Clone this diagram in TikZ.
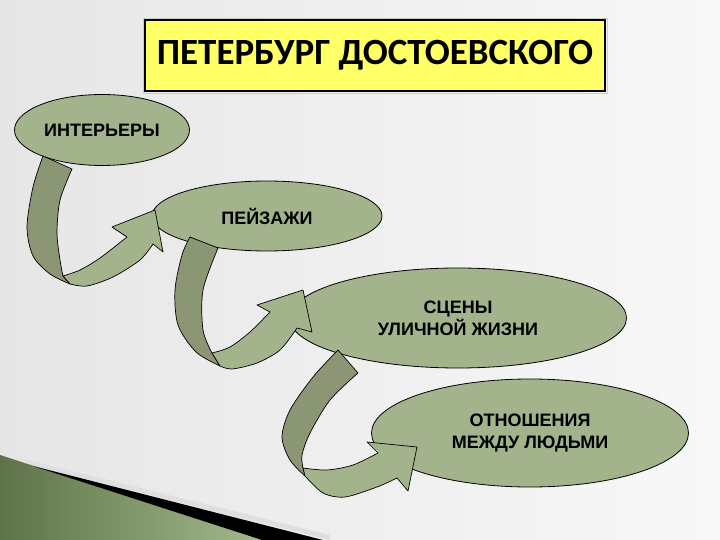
\documentclass[tikz,border=0pt]{standalone}
\usepackage{fontspec}
\setmainfont{Liberation Sans}
\newfontfamily\titlefont{Carlito}
\usetikzlibrary{shapes.geometric}
\definecolor{bgL}{HTML}{E6E6E6}
\definecolor{bgR}{HTML}{F8F8F8}
\definecolor{sage}{HTML}{A3B38C}
\definecolor{sagedark}{HTML}{8A9674}
\definecolor{titleyellow}{HTML}{FFFF66}
\definecolor{bandDark}{HTML}{5E7349}
\definecolor{bandLight}{HTML}{A3B98C}
\tikzset{
  oval/.style={ellipse, draw=black, line width=0.8pt, fill=sage, inner sep=0pt,
    font=\bfseries\fontsize{18}{22}\selectfont, align=center},
  backpart/.style={draw=black, line width=0.7pt, fill=sagedark, line join=round},
  frontpart/.style={draw=black, line width=0.7pt, fill=sage, line join=round},
}
\begin{document}
\begin{tikzpicture}[x=1pt,y=-1pt]
\useasboundingbox (0,0) rectangle (720,540);
% background
\shade[left color=bgL, right color=bgR] (0,0) rectangle (720,540);
% bottom-left band
\fill[gray!25] (20,458) -- (330,535) -- (330,540) -- (33,466) -- cycle;
\shade[left color=bandDark, right color=bandLight] (0,455) -- (262,540) -- (0,540) -- cycle;
\fill[black] (33,466) -- (323,540) -- (262,540) -- cycle;
% title
\draw[gray!40, line width=0.6pt] (143,18) rectangle (607,93);
\node[draw=black, line width=1.8pt, fill=titleyellow, minimum width=460pt, minimum height=71pt, inner sep=0pt,
  font=\titlefont\bfseries\fontsize{37}{42}\selectfont] (title) at (375,55.5) {ПЕТЕРБУРГ ДОСТОЕВСКОГО};
% ellipses
\node[oval, minimum width=175pt, minimum height=71pt] (e1) at (102,130) {ИНТЕРЬЕРЫ};
\node[oval, minimum width=230pt, minimum height=70pt] (e2) at (267,216) {ПЕЙЗАЖИ};
\node[oval, minimum width=337pt, minimum height=100pt] (e3) at (458,318) {СЦЕНЫ\\УЛИЧНОЙ ЖИЗНИ};
\node[oval, minimum width=317pt, minimum height=108pt] (e4) at (530,433) {ОТНОШЕНИЯ\\МЕЖДУ ЛЮДЬМИ};
% arrow 1
\filldraw[backpart] (43,156) -- (72,169) -- plot[smooth] coordinates {(72,169) (60,200) (57,233) (60,260) (63,276)}
  -- (70,284) -- plot[smooth] coordinates {(70,284) (50,274) (33,256) (27,227) (33,187) (43,156)} -- cycle;
\filldraw[frontpart] (70,284) -- plot[smooth] coordinates {(70,284) (87,286) (113,277) (140,260) (153,244)}
  -- (163,252) -- (155,210) -- (112,227) -- (127,237) -- plot[smooth] coordinates {(127,237) (100,258) (80,270) (63,276)} -- cycle;
% arrow 2
\filldraw[backpart] (190,237) -- (218,248) -- plot[smooth] coordinates {(218,248) (203,290) (203,330) (212,353)}
  -- (220,366) -- plot[smooth] coordinates {(220,366) (196,352) (178,325) (175,290) (182,255) (190,237)} -- cycle;
\filldraw[frontpart] (220,366) -- plot[smooth] coordinates {(220,366) (232,369) (257,363) (280,350) (297,328)}
  -- (312,332) -- (303,290) -- (257,305) -- (270,312) -- plot[smooth] coordinates {(270,312) (250,332) (230,347) (212,353)} -- cycle;
% arrow 3
\filldraw[backpart] (338,350) -- (358,373) -- plot[smooth] coordinates {(358,373) (330,400) (310,433) (302,455) (303,468)}
  -- (305,476) -- plot[smooth] coordinates {(305,476) (290,460) (282,437) (290,410) (313,377) (338,350)} -- cycle;
\filldraw[frontpart] (305,476) -- plot[smooth] coordinates {(305,476) (323,493) (345,497) (377,487) (397,478)}
  -- (408,491) -- (417,447) -- (367,442) -- (378,453) -- plot[smooth] coordinates {(378,453) (353,465) (327,470) (303,468)} -- cycle;
\end{tikzpicture}
\end{document}
